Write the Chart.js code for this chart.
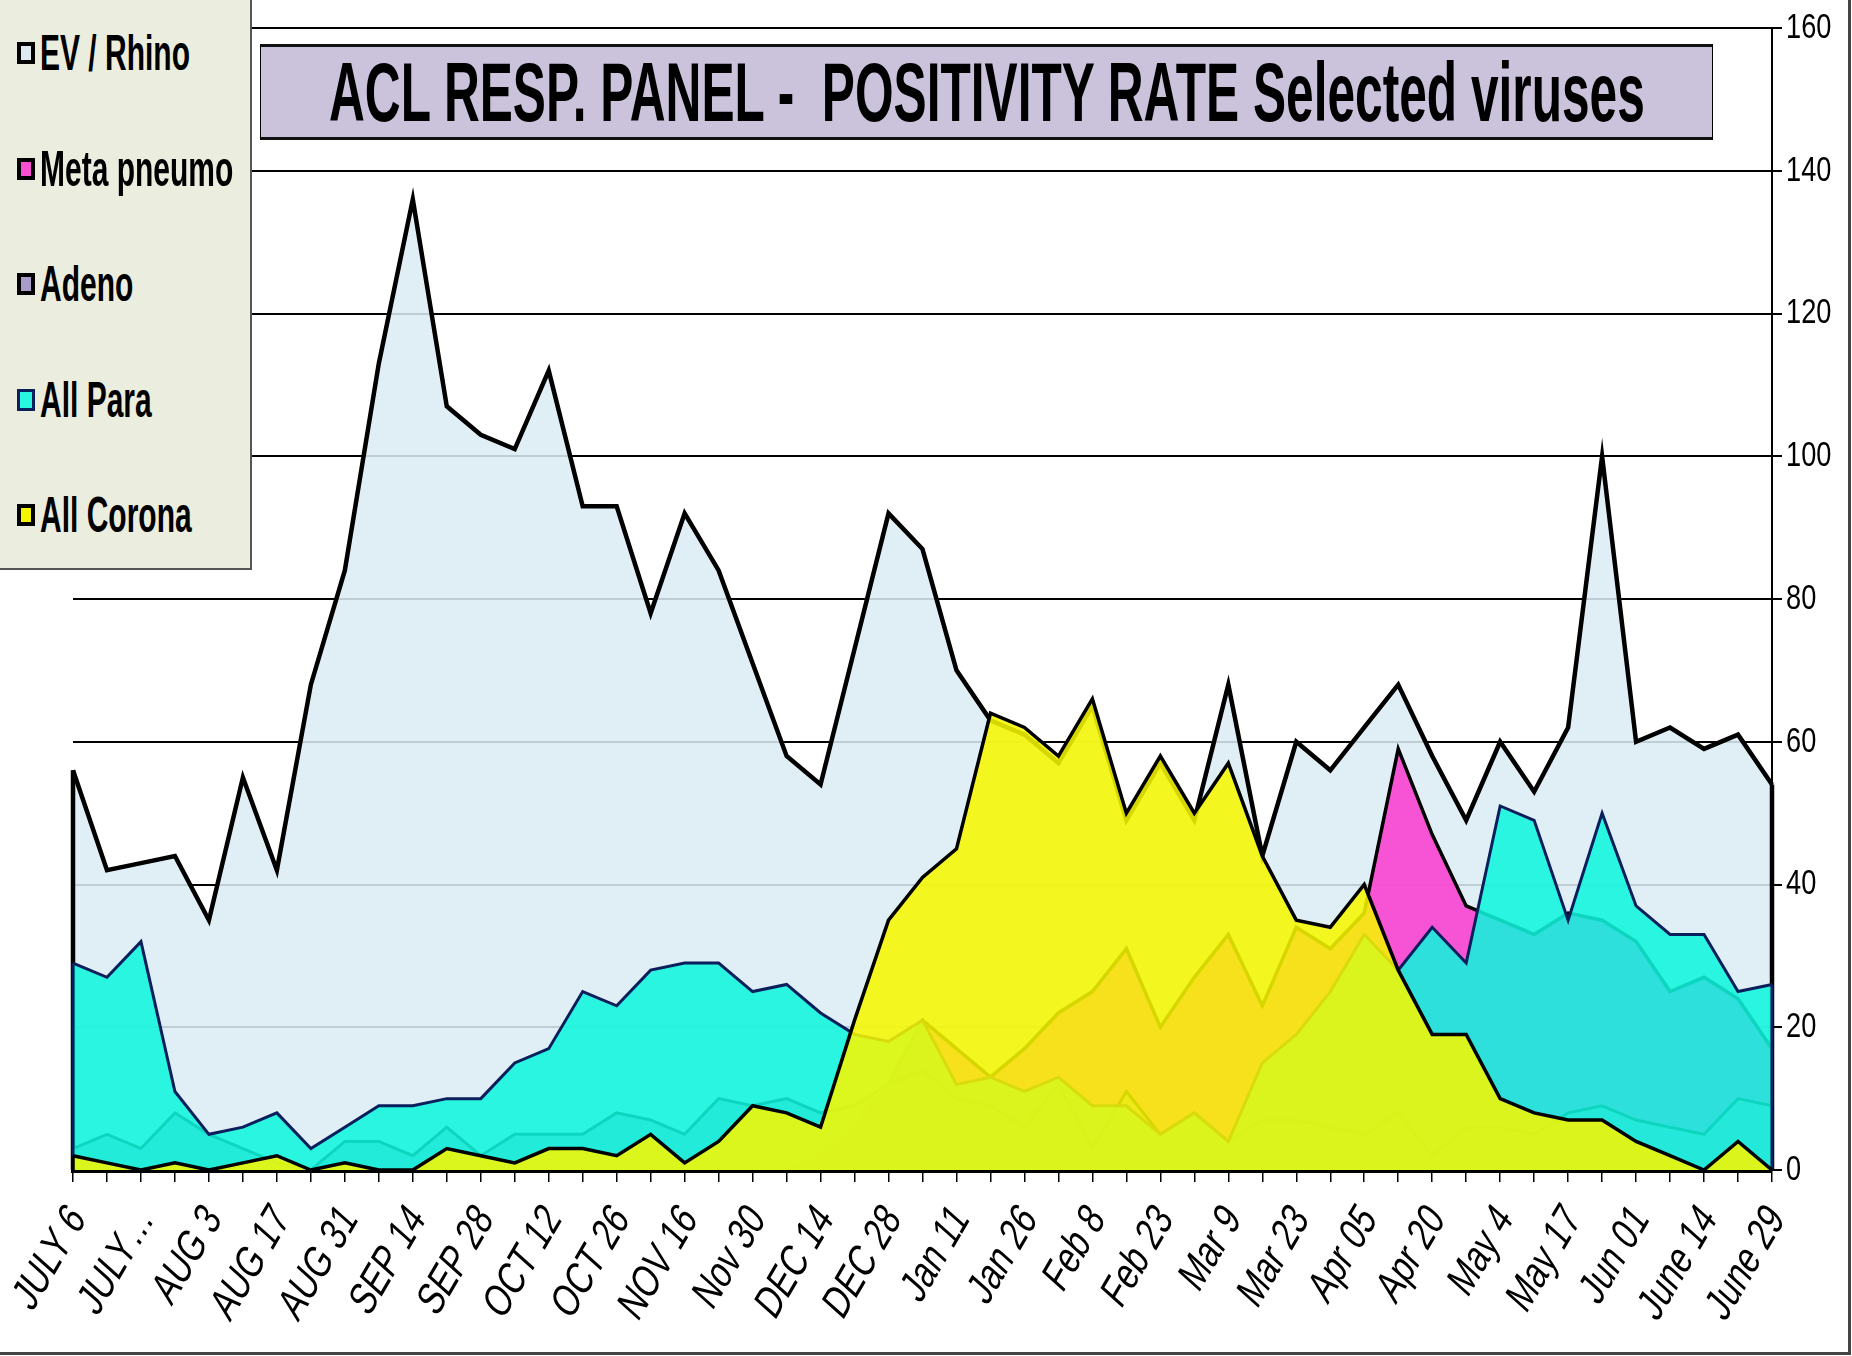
<!DOCTYPE html>
<html>
<head>
<meta charset="utf-8">
<title>ACL RESP. PANEL - POSITIVITY RATE Selected viruses</title>
<script src="https://cdn.jsdelivr.net/npm/chart.js@4.4.1/dist/chart.umd.min.js"></script>
<style>
body{margin:0;background:#fff;}
#frame{position:relative;width:1852px;height:1356px;overflow:hidden;background:#fff;}
#chart{position:absolute;left:0;top:0;}
#frameLine{position:absolute;left:0;top:0;width:1848px;height:1352px;border-right:3px solid #444;border-bottom:3px solid #444;pointer-events:none;}
#legendBox{position:absolute;left:0;top:0;width:250px;height:568px;background:#ebeddf;border-right:2px solid #555;border-bottom:2px solid #555;}
.item{position:absolute;left:17px;height:60px;display:flex;align-items:center;white-space:nowrap;
  font-family:'Liberation Sans',Arial,sans-serif;font-size:50px;font-weight:bold;color:#000;}
.swatch{box-sizing:border-box;width:18px;height:22px;border:4px solid #000;margin-right:5px;flex:none;}
.name{display:inline-block;transform-origin:left center;}
#titleBox{position:absolute;left:260px;top:44px;width:1451px;height:90px;background:#cbc3dc;
  border-left:1px solid #000;border-right:1px solid #000;border-top:3px solid #111;border-bottom:3px solid #111;}
#titleText{position:absolute;left:0;top:50%;display:inline-block;white-space:nowrap;transform-origin:left center;
  font-family:'Liberation Sans',Arial,sans-serif;font-weight:bold;font-size:84px;line-height:1;color:#000;}
</style>
</head>
<body>
<div id="frame">
  <canvas id="chart" width="1852" height="1356"></canvas>
  <div id="titleBox"><span id="titleText">ACL RESP. PANEL -&nbsp; POSITIVITY RATE Selected viruses</span></div>
  <div id="legendBox"></div>
  <div id="frameLine"></div>
</div>
<script>
// week labels, only every second week is printed on the axis
var weekLabels = ['JULY 6','JULY…','AUG 3','AUG 17','AUG 31','SEP 14','SEP 28','OCT 12','OCT 26','NOV 16',
  'Nov 30','DEC 14','DEC 28','Jan 11','Jan 26','Feb 8','Feb 23','Mar 9','Mar 23','Apr 05','Apr 20',
  'May 4','May 17','Jun 01','June 14','June 29'];

// values (51 weekly points)
var evRhino = [56,42,43,44,35,55,42,68,84,113,136,107,103,101,112,93,93,78,92,84,71,58,54,73,92,87,
  70,63,61,57,65,49,57,49,68,44,60,56,62,68,58,49,60,53,62,100,60,62,59,61,54];
var metaPneumo = [0,0,0,0,0,0,0,0,0,0,0,0,0,0,0,0,0,0,0,0,0,0,2,6,12,21,
  17,13,17,22,25,31,20,27,33,23,34,31,36,59,47,37,35,33,36,35,32,25,27,24,17];
var adeno = [3,5,3,8,5,3,1,0,4,4,2,6,2,5,5,5,8,7,5,10,9,10,8,9,12,14,
  10,9,6,12,3,11,5,8,4,7,7,6,5,8,2,6,6,5,8,9,7,6,5,10,9];
var allPara = [29,27,32,11,5,6,8,3,6,9,9,10,10,15,17,25,23,28,29,29,25,26,22,19,18,21,
  12,13,11,13,9,9,5,8,4,15,19,25,33,28,34,29,51,49,35,50,37,33,33,25,26];
var allCorona = [2,1,0,1,0,1,2,0,1,0,0,3,2,1,3,3,2,5,1,4,9,8,6,21,35,41,
  45,64,62,58,66,50,58,50,57,44,35,34,40,28,19,19,10,8,7,7,4,2,0,4,0];

// category axis: one slot per week, blank name on the odd weeks
var weeks = [];
for (var i = 0; i < evRhino.length; i++) {
  weeks.push(i % 2 == 0 ? weekLabels[i / 2] : '');
}

var series = [
  {label:'EV / Rhino',  data:evRhino,    fill:'rgba(219,237,244,0.87)', line:'#000',    key:'#dde9f0', w:4.5, order:5},
  {label:'Meta pneumo', data:metaPneumo, fill:'rgba(250,72,210,0.92)',  line:'#000',    key:'#f94fd3', w:3.5, order:4},
  {label:'Adeno',       data:adeno,      fill:'rgba(169,155,200,0.9)',  line:'#000',    key:'#a99bc8', w:3,   order:3},
  {label:'All Para',    data:allPara,    fill:'rgba(15,246,221,0.87)',  line:'#0b1f5c', key:'#2af5e0', w:3,   order:2},
  {label:'All Corona',  data:allCorona,  fill:'rgba(247,247,0,0.87)',   line:'#000',    key:'#f5f500', w:3.5, order:1}
];

var squeezeX = 0.8;   // Arial Narrow look from the regular face
var sansFont = "'Liberation Sans',Arial,sans-serif";

// closes the area outline at both ends, like the old spreadsheet did
var edgePlugin = {
  id:'edges',
  afterDatasetDraw: function(chart, args) {
    var ds = chart.data.datasets[args.index];
    var x = chart.scales.x, y = chart.scales.y, c = chart.ctx;
    var last = ds.data.length - 1;
    c.save();
    c.strokeStyle = ds.borderColor;
    c.lineWidth = ds.borderWidth;
    c.beginPath();
    c.moveTo(x.getPixelForValue(0), y.getPixelForValue(ds.data[0]));
    c.lineTo(x.getPixelForValue(0), y.getPixelForValue(0));
    c.moveTo(x.getPixelForValue(last), y.getPixelForValue(ds.data[last]));
    c.lineTo(x.getPixelForValue(last), y.getPixelForValue(0));
    c.stroke();
    c.restore();
  }
};

// tick labels in a narrow slanted face (no condensed italic font installed)
var labelPlugin = {
  id:'narrowLabels',
  afterDraw: function(chart) {
    var c = chart.ctx, x = chart.scales.x, y = chart.scales.y;
    c.save();
    c.fillStyle = '#000';
    c.textBaseline = 'middle';
    c.font = '42px ' + sansFont;
    c.textAlign = 'right';
    weeks.forEach(function(w, i){
      if (!w) return;
      c.save();
      c.translate(x.getPixelForValue(i) + 5, x.top + 42);
      c.rotate(-59.5 * Math.PI / 180);
      c.transform(squeezeX, 0, -0.2, 1, 0, 0);
      c.fillText(w, 0, 0);
      c.restore();
    });
    c.font = '34px ' + sansFont;
    c.textAlign = 'left';
    y.ticks.forEach(function(t){
      c.save();
      c.translate(y.left + 14, y.getPixelForValue(t.value));
      c.scale(squeezeX, 1.05);
      c.fillText(String(t.value), 0, 0);
      c.restore();
    });
    c.restore();
  }
};

new Chart(document.getElementById('chart'), {
  type:'line',
  data:{
    labels:weeks,
    datasets:series.map(function(s){
      return {label:s.label, data:s.data, backgroundColor:s.fill, borderColor:s.line,
        borderWidth:s.w, fill:'origin', order:s.order, pointRadius:0, tension:0, borderJoinStyle:'miter'};
    })
  },
  options:{
    responsive:false,
    animation:false,
    layout:{padding:{left:73, top:28, right:0, bottom:0}},
    plugins:{legend:{display:false}, title:{display:false}, tooltip:{enabled:false}},
    scales:{
      x:{
        offset:false,
        grid:{drawOnChartArea:false, drawTicks:true, tickLength:12, color:'#000', lineWidth:1.5},
        border:{color:'#000', width:5},
        ticks:{display:false, autoSkip:false},
        afterFit:function(s){ s.height = 186; }
      },
      y:{
        position:'right', min:0, max:160,
        grid:{color:'#000', lineWidth:2, tickLength:10},
        border:{color:'#000', width:2},
        ticks:{display:false, stepSize:20},
        afterFit:function(s){ s.width = 80; }
      }
    }
  },
  plugins:[edgePlugin, labelPlugin]
});

// legend box in the upper left corner
var box = document.getElementById('legendBox');
series.forEach(function(s, k){
  var row = document.createElement('div');
  row.className = 'item';
  row.style.top = (23 + k * 115.5) + 'px';
  var sw = document.createElement('span');
  sw.className = 'swatch';
  sw.style.background = s.key;
  if (s.label == 'All Para') sw.style.borderColor = '#0b1f5c', sw.style.borderWidth = '3px';
  var nm = document.createElement('span');
  nm.className = 'name';
  nm.textContent = s.label;
  row.appendChild(sw); row.appendChild(nm);
  box.appendChild(row);
});
// squeeze the legend names to the measured width of the first one
var names = box.querySelectorAll('.name');
var squeeze = 150 / names[0].offsetWidth;
names.forEach(function(n){ n.style.transform = 'scaleX(' + squeeze + ')'; });

var tt = document.getElementById('titleText');
var tw = tt.offsetWidth;
tt.style.left = ((1451 - 1316) / 2) + 'px';
tt.style.transform = 'translateY(-50%) scaleX(' + (1316 / tw) + ')';
</script>
</body>
</html>
